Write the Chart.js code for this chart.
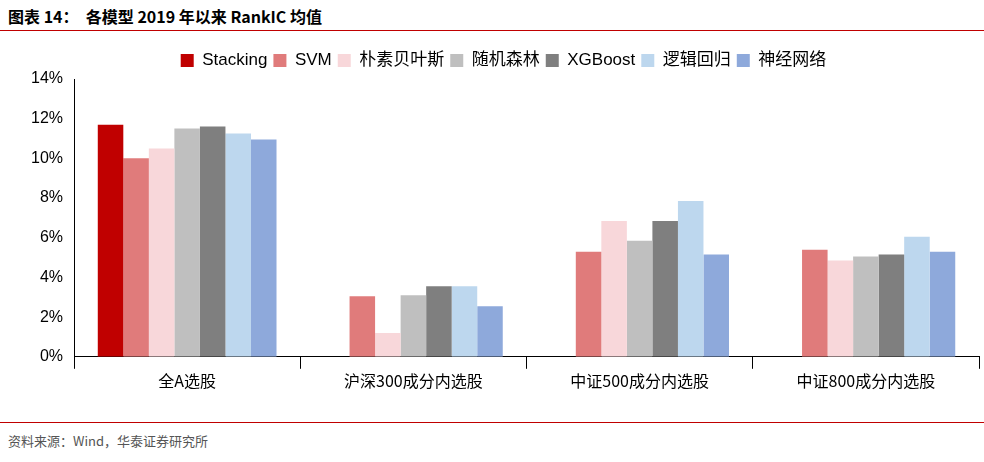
<!DOCTYPE html>
<html><head><meta charset="utf-8">
<script src="https://cdn.jsdelivr.net/npm/chart.js@4/dist/chart.umd.min.js"></script>
<style>
body{margin:0;width:984px;height:462px;background:#fff;font-family:"Noto Sans CJK SC","Liberation Sans",sans-serif;position:relative;overflow:hidden}
#title{position:absolute;left:8px;top:4px;font-size:16px;font-weight:bold;color:#000}
#l1{position:absolute;left:0;top:30px;width:984px;height:1px;background:#C00000}
#l2{position:absolute;left:0;top:422px;width:984px;height:1px;background:#C00000}
#src{position:absolute;left:8px;top:431px;font-size:13px;color:#555}
#wrap{position:absolute;left:0;top:46px;width:984px;height:348px}
</style></head><body>
<div id="title">图表 14：&nbsp;&nbsp;各模型 2019 年以来 RankIC 均值</div>
<div id="l1"></div>
<div id="wrap"><canvas id="c"></canvas></div>
<div id="l2"></div>
<div id="src">资料来源：Wind，华泰证券研究所</div>
<script>
const categories=["全A选股","沪深300成分内选股","中证500成分内选股","中证800成分内选股"];
const seriesNames=["Stacking","SVM","朴素贝叶斯","随机森林","XGBoost","逻辑回归","神经网络"];
const stacking=[11.7,null,null,null];
const svm=[10.0,3.05,5.3,5.4];
const bayes=[10.5,1.2,6.85,4.85];
const forest=[11.5,3.1,5.85,5.05];
const xgb=[11.6,3.55,6.85,5.15];
const logit=[11.25,3.55,7.85,6.05];
const nn=[10.95,2.55,5.15,5.3];
const colors=["#C00000","#E07B7B","#F8D7DA","#BFBFBF","#7F7F7F","#BDD7EE","#8EA9DB"];
const vals=[stacking,svm,bayes,forest,xgb,logit,nn];
new Chart(document.getElementById('c'),{type:'bar',
data:{labels:categories,datasets:vals.map((v,i)=>({label:seriesNames[i],data:v,backgroundColor:colors[i],barPercentage:1,categoryPercentage:0.79}))},
options:{responsive:true,maintainAspectRatio:false,animation:false,
layout:{padding:{left:28,right:5,top:0,bottom:0}},
plugins:{legend:{position:'top',labels:{boxWidth:13,boxHeight:13,padding:6,color:'#000',font:{size:17,family:'"Liberation Sans","Noto Sans CJK SC",sans-serif'}}},tooltip:{enabled:false}},
scales:{y:{min:0,max:14,ticks:{stepSize:2,callback:v=>v+'%',color:'#000',font:{size:16,family:'"Liberation Sans",sans-serif'}},grid:{display:false},border:{color:'#000'}},
x:{ticks:{color:'#000',font:{size:16,family:'"Noto Sans CJK SC",sans-serif'}},grid:{offset:true,drawOnChartArea:false,color:'#000',tickLength:12},border:{color:'#000'}}}}});
</script></body></html>
